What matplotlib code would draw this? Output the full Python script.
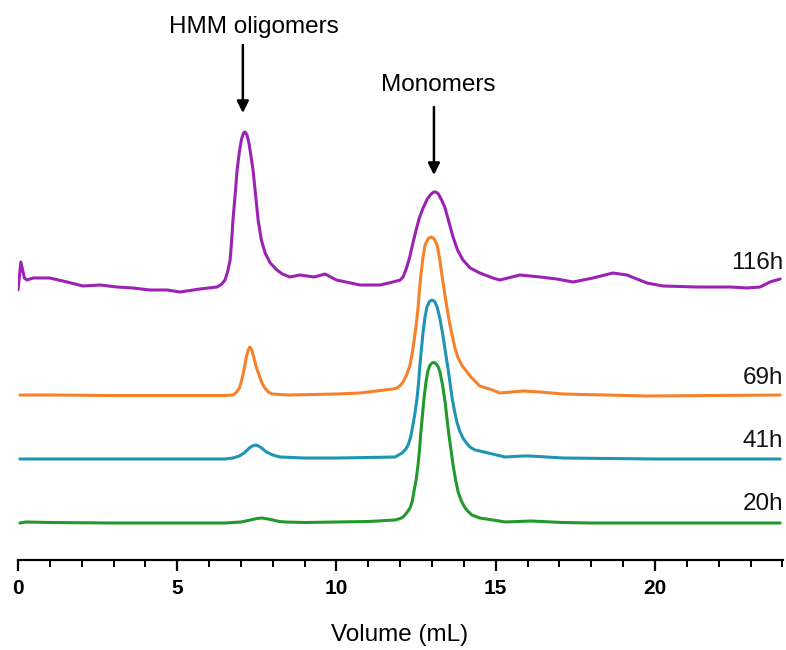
import matplotlib
matplotlib.use("Agg")
import matplotlib.pyplot as plt
from matplotlib.ticker import MultipleLocator

plt.rcParams['font.family'] = ['Liberation Sans', 'DejaVu Sans']

# Elution volume (mL) and stacked detector response (offset units) for each sample
vol_20h = [0.06, 0.25, 1.0, 3.0, 5.0, 6.5, 7.0, 7.3, 7.5, 7.66, 7.85, 8.0, 8.2, 8.4,
           9.0, 10.0, 11.0, 11.84, 12.0, 12.09, 12.2, 12.31, 12.38, 12.43, 12.5, 12.56,
           12.61, 12.65, 12.7, 12.75, 12.81, 12.87, 12.93, 13.0, 13.06, 13.12, 13.19,
           13.25, 13.33, 13.41, 13.47, 13.53, 13.6, 13.66, 13.74, 13.82, 13.92, 14.04,
           14.15, 14.25, 14.5, 14.91, 15.3, 16.1, 17.1, 18.0, 20.0, 22.0, 23.93]
sig_20h = [37, 38, 37.5, 37, 37, 37, 38, 40, 41.5, 42, 41, 40, 38.5, 38,
           37.5, 38, 38.5, 40, 41.5, 43, 47, 52, 59, 68, 80, 95,
           111, 128, 145, 162, 178, 189, 194.5, 197, 197.5, 196.5, 193.5,
           188, 175, 158, 141, 125, 109, 95, 80, 68, 59, 52,
           48, 45, 42, 40, 38, 39, 37.5, 37, 37, 37, 37]

vol_41h = [0.06, 1.0, 5.0, 6.5, 6.75, 6.95, 7.1, 7.2, 7.3, 7.4, 7.47, 7.55, 7.65, 7.8,
           8.0, 8.23, 9.0, 10.0, 11.0, 11.84, 12.06, 12.18, 12.25, 12.33, 12.4, 12.47,
           12.53, 12.58, 12.62, 12.67, 12.72, 12.78, 12.84, 12.92, 13.0, 13.08, 13.16,
           13.25, 13.34, 13.42, 13.5, 13.57, 13.63, 13.7, 13.78, 13.87, 13.97, 14.08,
           14.19, 14.35, 14.5, 15.29, 15.86, 16.08, 17.11, 20.0, 23.93]
sig_41h = [101, 101, 101, 101, 102, 104, 107, 110, 113, 114.5, 115, 114, 112, 108,
           105, 103, 102, 102, 102.5, 103, 107, 111, 115, 123, 135, 148,
           162, 178, 195, 212, 228, 243, 253, 258.5, 260, 258.5, 253,
           241, 225, 208, 192, 176, 162, 150, 138, 129, 122, 117,
           113, 110, 109, 103, 104, 104, 102, 101, 101]

vol_69h = [0.06, 1.0, 3.0, 5.0, 6.5, 6.75, 6.85, 6.95, 7.0, 7.06, 7.12, 7.17, 7.23,
           7.28, 7.34, 7.4, 7.48, 7.57, 7.66, 7.75, 7.86, 7.98, 8.5, 10.0, 10.74, 11.5,
           11.77, 11.9, 12.0, 12.09, 12.2, 12.31, 12.37, 12.43, 12.5, 12.56, 12.6, 12.65,
           12.71, 12.78, 12.88, 12.97, 13.06, 13.16, 13.24, 13.31, 13.39, 13.47, 13.55,
           13.63, 13.72, 13.82, 13.95, 14.1, 14.22, 14.35, 14.5, 14.9, 15.13, 15.86,
           16.39, 17.11, 19.75, 23.93]
sig_69h = [165, 165, 164.5, 164.5, 164.5, 165, 167.5, 172, 177, 185, 194, 203, 210,
           213, 210, 203, 193, 185, 177, 172, 168, 166, 165, 166, 167, 170,
           171, 172, 174.5, 178, 185, 195, 205, 218, 234, 252, 268, 285,
           301, 315, 321.5, 323, 321.5, 315, 301, 285, 268, 252, 237,
           225, 212, 202, 194, 188, 183, 179, 174, 170, 167, 169,
           168, 166, 164, 165]

vol_116h = [0.0, 0.09, 0.2, 0.28, 0.47, 1.0, 1.54, 2.04, 2.58, 3.11, 3.61, 4.14,
            4.68, 5.09, 5.71, 6.25, 6.4, 6.5, 6.58, 6.66, 6.71, 6.75, 6.82, 6.88,
            6.95, 7.02, 7.08, 7.13, 7.19, 7.25, 7.31, 7.38, 7.46, 7.54, 7.64, 7.76,
            7.92, 8.13, 8.3, 8.54, 8.85, 9.3, 9.64, 10.0, 10.74, 11.37, 11.77, 12.0,
            12.09, 12.2, 12.3, 12.4, 12.5, 12.6, 12.72, 12.85, 12.97, 13.06, 13.12,
            13.2, 13.3, 13.4, 13.53, 13.66, 13.8, 13.97, 14.2, 14.5, 14.91, 15.13,
            15.76, 16.39, 16.92, 17.43, 18.05, 18.68, 19.12, 19.75, 20.25, 21.32,
            22.36, 22.89, 23.3, 23.61, 23.93]
sig_116h = [270, 298, 282, 280, 282, 282, 278, 274, 275, 273, 272, 270,
            270, 268, 271, 273, 276, 280, 288, 300, 320, 340, 366, 390,
            408, 421, 427, 428, 425, 417, 405, 390, 365, 340, 320, 307,
            297, 290, 286, 283, 285, 283, 286, 280, 275, 275, 278, 280,
            283, 292, 303, 317, 330, 342, 352, 361, 366, 368, 368,
            366, 360, 353, 338, 323, 310, 300, 292, 287, 282, 280,
            285, 283, 281, 278, 282, 287, 285, 277, 274, 273,
            273, 272, 273, 278, 281]

series = [
    ("20h", vol_20h, sig_20h, "#23992b", 56),
    ("41h", vol_41h, sig_41h, "#1f95b4", 119),
    ("69h", vol_69h, sig_69h, "#f5822a", 182),
    ("116h", vol_116h, sig_116h, "#9b22b3", 297),
]

fig = plt.figure(figsize=(7.86, 6.5), dpi=100)
ax = fig.add_axes([18 / 786, 90 / 650, (783 - 18) / 786, 560 / 650])
ax.set_xlim(0, 24.02)
ax.set_ylim(0, 560)

for label, x, y, color, label_y in series:
    ax.plot(x, y, color=color, lw=2.2, solid_joinstyle="round", solid_capstyle="round")
    ax.text(24.02, label_y, label, ha="right", va="center", fontsize=17.5, color="#111111")

# Peak annotations
ax.annotate("", xy=(7.06, 447), xytext=(7.06, 515),
            arrowprops=dict(arrowstyle="-|>,head_length=0.7,head_width=0.35",
                            color="black", lw=1.8, shrinkA=0, shrinkB=0))
ax.text(7.41, 533, "HMM oligomers", ha="center", va="center", fontsize=17.5)
ax.annotate("", xy=(13.06, 385), xytext=(13.06, 453),
            arrowprops=dict(arrowstyle="-|>,head_length=0.7,head_width=0.35",
                            color="black", lw=1.8, shrinkA=0, shrinkB=0))
ax.text(13.19, 475, "Monomers", ha="center", va="center", fontsize=17.5)

# Axis styling: only the bottom spine with ticks every 1 mL, labels every 5 mL
for side in ("left", "right", "top"):
    ax.spines[side].set_visible(False)
ax.spines["bottom"].set_linewidth(1.6)
ax.set_yticks([])
ax.xaxis.set_major_locator(MultipleLocator(5))
ax.xaxis.set_minor_locator(MultipleLocator(1))
ax.tick_params(axis="x", which="major", length=8, width=1.6, direction="out",
               labelsize=15, pad=6)
ax.tick_params(axis="x", which="minor", length=5, width=1.4, direction="out")
for t in ax.get_xticklabels():
    t.set_fontweight("bold")

fig.text(400 / 786, 1 - 635 / 650, "Volume (mL)", ha="center", va="center", fontsize=17.5)

fig.savefig("out.png", dpi=100)
